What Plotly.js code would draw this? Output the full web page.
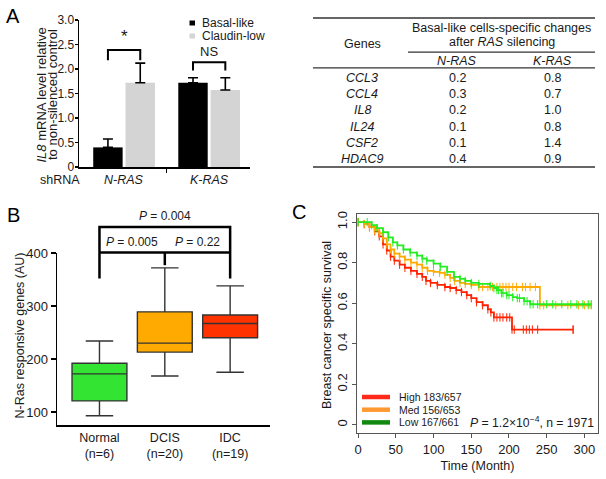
<!DOCTYPE html>
<html><head><meta charset="utf-8">
<script src="https://cdn.plot.ly/plotly-3.0.1.min.js"></script>
<style>html,body{margin:0;padding:0;background:#fff}#chart{width:606px;height:479px}</style>
</head><body><div id="chart"></div>
<script>
// ---------- Panel A: bar chart ----------
const shRNA = ['N-RAS', 'K-RAS'];
const seriesNames = ['Basal-like', 'Claudin-low'];
const basalMean = [0.40, 1.72];
const basalErr = [0.17, 0.10];
const claudinMean = [1.72, 1.57];
const claudinErr = [0.40, 0.25];
const sigLabels = ['*', 'NS'];
const sigLevels = [2.39, 2.14];

// ---------- Panel A: table ----------
const genes = ['CCL3', 'CCL4', 'IL8', 'IL24', 'CSF2', 'HDAC9'];
const nrasChange = ['0.2', '0.3', '0.2', '0.1', '0.1', '0.4'];
const krasChange = ['0.8', '0.7', '1.0', '0.8', '1.4', '0.9'];

// ---------- Panel B: box plot ----------
const stages = ['Normal', 'DCIS', 'IDC'];
const stageN = [6, 20, 19];
const boxLo = [93, 168, 175];
const boxQ1 = [121, 213, 240];
const boxMed = [172, 230, 267];
const boxQ3 = [192, 289, 283];
const boxHi = [234, 372, 338];
const pValues = ['0.004', '0.005', '0.22'];

// ---------- Panel C: Kaplan-Meier ----------
const kmGroups = ['High', 'Med', 'Low'];
const kmEvents = ['183/657', '156/653', '167/661'];
const highT = [0, 8, 15, 22, 28, 33, 38, 43, 48, 55, 62, 70, 78, 85, 90, 96, 105, 115, 122, 130, 137, 144, 150, 157, 165, 172, 176, 180, 204, 285];
const highS = [1.0, 0.99, 0.975, 0.955, 0.93, 0.89, 0.86, 0.83, 0.81, 0.79, 0.775, 0.76, 0.745, 0.73, 0.71, 0.70, 0.69, 0.68, 0.675, 0.665, 0.655, 0.64, 0.625, 0.605, 0.59, 0.57, 0.555, 0.53, 0.47, 0.47];
const medT = [0, 8, 15, 22, 28, 33, 38, 43, 48, 55, 62, 70, 78, 85, 92, 100, 108, 115, 122, 128, 135, 142, 150, 160, 241, 309];
const medS = [1.0, 0.99, 0.975, 0.96, 0.945, 0.92, 0.89, 0.865, 0.845, 0.83, 0.815, 0.80, 0.79, 0.775, 0.76, 0.755, 0.75, 0.74, 0.725, 0.71, 0.70, 0.695, 0.69, 0.68, 0.59, 0.59];
const lowT = [0, 12, 18, 25, 33, 40, 46, 52, 60, 69, 78, 85, 91, 100, 109, 118, 127, 135, 142, 150, 160, 175, 180, 184, 190, 197, 205, 211, 220, 228, 309];
const lowS = [1.0, 1.0, 0.985, 0.97, 0.95, 0.925, 0.90, 0.885, 0.865, 0.85, 0.835, 0.82, 0.81, 0.795, 0.78, 0.755, 0.73, 0.72, 0.71, 0.70, 0.695, 0.685, 0.675, 0.665, 0.65, 0.64, 0.63, 0.625, 0.61, 0.595, 0.595];
const highCensor = [184, 188, 192, 197, 201, 207, 219, 223, 227, 231, 238, 285];
const medCensor = [165, 172, 178, 184, 188, 192, 196, 200, 205, 210, 218, 222, 228, 235, 246, 262, 278, 292, 300, 306];
const lowCensor = [186, 192, 200, 214, 224, 232, 238, 250, 258, 270, 282, 290, 298, 305];

// ---------- helpers / styles ----------
const W = 606, H = 479;
const px = v => v / W;
const py = v => 1 - v / H;
const FONT = 'Liberation Sans, Arial, Helvetica, sans-serif';
const TXT = '#1a1a1a';

function stepAt(T, S, t) {
  let v = S[0];
  for (let i = 0; i < T.length; i++) if (T[i] <= t) v = S[i];
  return v;
}
function paperText(x, y, text, size, extra) {
  return Object.assign({xref: 'paper', yref: 'paper', x: px(x), y: py(y), text: text,
    xanchor: 'center', yanchor: 'middle', showarrow: false,
    font: {family: FONT, size: size, color: TXT}}, extra || {});
}

const traces = [];
const shapes = [];
const annotations = [];

// ===== Panel A bars =====
const xIdx = shRNA.map((_, i) => i);
const bargap = 0.24;
const barOff = (1 - bargap) / 4;
traces.push({
  type: 'bar', x: xIdx, y: basalMean, name: seriesNames[0],
  marker: {color: '#000000'},
  error_y: {type: 'data', array: basalErr, arrayminus: basalErr.map(() => 0), symmetric: false, color: '#000', thickness: 1.6, width: 5},
  xaxis: 'x', yaxis: 'y', hoverinfo: 'skip'
});
traces.push({
  type: 'bar', x: xIdx, y: claudinMean, name: seriesNames[1],
  marker: {color: '#d4d4d4'},
  error_y: {type: 'data', array: claudinErr, arrayminus: claudinErr.map(() => 0), symmetric: false, color: '#000', thickness: 1.6, width: 5},
  xaxis: 'x', yaxis: 'y', hoverinfo: 'skip'
});
// significance brackets
const legLen = [0.21, 0.17];
xIdx.forEach((i, k) => {
  const lv = sigLevels[k];
  traces.push({
    type: 'scatter', mode: 'lines', xaxis: 'x', yaxis: 'y',
    x: [i - barOff, i - barOff, i + barOff, i + barOff],
    y: [lv - legLen[k], lv, lv, lv - legLen[k]],
    line: {color: '#000', width: 2}, hoverinfo: 'skip'
  });
  annotations.push({
    xref: 'x', yref: 'y', x: i, y: lv + (k === 0 ? 0.03 : 0.02), xanchor: 'center', yanchor: 'bottom',
    text: sigLabels[k], showarrow: false,
    font: {family: FONT, size: k === 0 ? 17 : 13, color: TXT}
  });
  annotations.push({
    xref: 'x', yref: 'paper', x: i, y: py(180), xanchor: 'center', yanchor: 'middle',
    text: '<i>' + shRNA[k] + '</i>', showarrow: false, font: {family: FONT, size: 12.5, color: TXT}
  });
});
annotations.push(paperText(60, 180, 'shRNA', 12.5));
// y title A (two lines)
annotations.push(paperText(41.5, 95, '<i>IL8</i> mRNA level relative', 13, {textangle: -90}));
annotations.push(paperText(53, 95, 'to non-silenced control', 13, {textangle: -90}));
// legend A
const legColors = ['#000000', '#d4d4d4'];
seriesNames.forEach((n, k) => {
  const cy = 23 + k * 13;
  shapes.push({type: 'rect', xref: 'paper', yref: 'paper', x0: px(189.5), x1: px(195), y0: py(cy - 2.5), y1: py(cy + 2.5), fillcolor: legColors[k], line: {width: 0}});
  annotations.push(paperText(200, cy, n, 12, {xanchor: 'left'}));
});
// panel letters
[['A', 13, 16], ['B', 13, 215], ['C', 299, 212]].forEach(([t, x, y]) => {
  annotations.push(paperText(x, y, t, 20, {font: {family: FONT, size: 20, color: '#000'}}));
});

// ===== Table (hidden axes x4/y4) =====
const rowFont = {family: FONT, size: 12.5, color: TXT};
const colX = [0.174, 0.511, 0.851];
function cell(x, y, text) {
  return {xref: 'x4', yref: 'y4', x: x, y: y, text: text, xanchor: 'center', yanchor: 'middle', showarrow: false, font: rowFont};
}
genes.forEach((g, i) => {
  annotations.push(cell(colX[0], i, '<i>' + g + '</i>'));
  annotations.push(cell(colX[1], i, nrasChange[i]));
  annotations.push(cell(colX[2], i, krasChange[i]));
});
annotations.push(cell(colX[0], -2.1, 'Genes'));
annotations.push(cell(0.67, -3.09, 'Basal-like cells-specific changes'));
annotations.push(cell(0.67, -2.2, 'after <i>RAS</i> silencing'));
annotations.push(cell(colX[1], -1.02, '<i>' + shRNA[0] + '</i>'));
annotations.push(cell(colX[2], -1.02, '<i>' + shRNA[1] + '</i>'));
[[0, -3.70, 1.5], [0.337, -1.60, 1.2], [0, -0.62, 1.2], [0, 5.49, 1.5]].forEach(([x0, y, w]) => {
  shapes.push({type: 'line', xref: 'x4', yref: 'y4', x0: x0, x1: 1, y0: y, y1: y, line: {color: '#333', width: w}});
});

// ===== Panel B boxes =====
const boxFill = ['#33e433', '#ffaa00', '#ff3300'];
stages.forEach((s, i) => {
  traces.push({
    type: 'box', x: [s], q1: [boxQ1[i]], median: [boxMed[i]], q3: [boxQ3[i]],
    lowerfence: [boxLo[i]], upperfence: [boxHi[i]], boxpoints: false,
    width: 0.84, whiskerwidth: 0.5, fillcolor: boxFill[i],
    line: {color: '#333', width: 1.4}, xaxis: 'x2', yaxis: 'y2', hoverinfo: 'skip'
  });
});
annotations.push(paperText(19.5, 336, 'N-Ras responsive genes (AU)', 12.5, {textangle: -90}));
// brackets (overlay axes x5/y5, same value scale)
const iN = stages.indexOf('Normal'), iD = stages.indexOf('DCIS'), iI = stages.indexOf('IDC');
const topLv = 449, lowLv = 401, legEnd = 352, midEnd = 377;
const brStyle = {color: '#000', width: 2.5};
traces.push({type: 'scatter', mode: 'lines', xaxis: 'x5', yaxis: 'y5', x: [iN, iN, iI, iI], y: [legEnd, topLv, topLv, legEnd], line: brStyle, hoverinfo: 'skip'});
traces.push({type: 'scatter', mode: 'lines', xaxis: 'x5', yaxis: 'y5', x: [iN, iI], y: [lowLv, lowLv], line: brStyle, hoverinfo: 'skip'});
traces.push({type: 'scatter', mode: 'lines', xaxis: 'x5', yaxis: 'y5', x: [iD, iD], y: [lowLv, midEnd], line: brStyle, hoverinfo: 'skip'});
const pFont = {family: FONT, size: 12, color: TXT};
function pText(x, y, t) {
  return {xref: 'x5', yref: 'y5', x: x, y: y, xanchor: 'center', yanchor: 'bottom', text: '<i>P</i> = ' + t, showarrow: false, font: pFont};
}
annotations.push(pText((iN + iI) / 2, topLv + 3, pValues[0]));
annotations.push(pText((iN + iD) / 2, lowLv + 3, pValues[1]));
annotations.push(pText((iD + iI) / 2, lowLv + 3, pValues[2]));

// ===== Panel C KM =====
const kmLine = ['#ff2200', '#ffaa00', '#22ee22'];
const kmLeg = ['#ff2a1a', '#ff9a33', '#0f8a0f'];
const kmData = [[highT, highS, highCensor], [medT, medS, medCensor], [lowT, lowS, lowCensor]];
kmData.forEach(([T, S, C], k) => {
  traces.push({
    type: 'scatter', mode: 'lines+markers', x: T, y: S, xaxis: 'x3', yaxis: 'y3',
    line: {shape: 'hv', color: kmLine[k], width: 1.8},
    marker: {symbol: 'line-ns', size: 6, color: kmLine[k], line: {color: kmLine[k], width: 1}},
    hoverinfo: 'skip'
  });
  traces.push({
    type: 'scatter', mode: 'markers', x: C, y: C.map(t => stepAt(T, S, t)), xaxis: 'x3', yaxis: 'y3',
    marker: {symbol: 'line-ns', size: 6, color: kmLine[k], line: {color: kmLine[k], width: 1}},
    hoverinfo: 'skip'
  });
});
kmGroups.forEach((g, k) => {
  const cy = 397 + k * 12.7;
  shapes.push({type: 'line', xref: 'paper', yref: 'paper', x0: px(362), x1: px(390), y0: py(cy), y1: py(cy), line: {color: kmLeg[k], width: 4.5}});
  annotations.push(paperText(397, cy, g + ' ' + kmEvents[k], 10.5, {xanchor: 'left'}));
});
annotations.push({xref: 'x3', yref: 'y3', x: 315, y: 0.012, xanchor: 'right', yanchor: 'middle', text: '<i>P</i> = 1.2×10<sup>−4</sup>, n = 1971', showarrow: false, font: {family: FONT, size: 12.2, color: TXT}});
annotations.push(paperText(327, 325, 'Breast cancer specific survival', 12.5, {textangle: -90}));

// ===== Layout =====
const axBase = {showgrid: false, zeroline: false, fixedrange: true};
const layout = {
  width: W, height: H, margin: {l: 0, r: 0, t: 0, b: 0},
  paper_bgcolor: '#fff', plot_bgcolor: 'rgba(0,0,0,0)',
  showlegend: false, bargap: bargap, bargroupgap: 0.09, barmode: 'group',
  font: {family: FONT, color: TXT},
  xaxis: Object.assign({}, axBase, {
    domain: [px(79), px(250)], range: [-0.53, 1.48], anchor: 'y',
    showline: true, linecolor: '#000', linewidth: 1.5,
    tickmode: 'array', tickvals: [0.5], ticks: 'outside', ticklen: 4, tickwidth: 1.5, tickcolor: '#000', showticklabels: false
  }),
  yaxis: Object.assign({}, axBase, {
    domain: [py(167), py(20)], range: [0, 3], anchor: 'x',
    showline: true, linecolor: '#000', linewidth: 1.5,
    tickmode: 'array', tickvals: [0, 0.5, 1, 1.5, 2, 2.5, 3], ticktext: ['0', '0.5', '1.0', '1.5', '2.0', '2.5', '3.0'],
    ticks: 'outside', ticklen: 3, tickwidth: 1.5, tickcolor: '#000', ticklabelstandoff: -2,
    tickfont: {family: FONT, size: 12, color: TXT}
  }),
  xaxis2: Object.assign({}, axBase, {
    domain: [px(57), px(270)], range: [-0.65, 2.61], anchor: 'y2', type: 'category',
    categoryorder: 'array', categoryarray: stages,
    showline: true, linecolor: '#000', linewidth: 1.5, ticks: '',
    tickmode: 'array', tickvals: stages, ticktext: stages.map((s, i) => s + '<br>(n=' + stageN[i] + ')'),
    tickfont: {family: FONT, size: 12.5, color: TXT}
  }),
  yaxis2: Object.assign({}, axBase, {
    domain: [py(425), py(253)], range: [75.5, 400], anchor: 'x2',
    showline: true, linecolor: '#000', linewidth: 1.5,
    tickmode: 'array', tickvals: [100, 200, 300, 400],
    ticks: 'outside', ticklen: 5, tickwidth: 1.5, tickcolor: '#000',
    tickfont: {family: FONT, size: 13, color: TXT}
  }),
  xaxis5: Object.assign({}, axBase, {domain: [px(57), px(270)], range: [-0.65, 2.61], anchor: 'y5', visible: false}),
  yaxis5: Object.assign({}, axBase, {domain: [py(425), py(200)], range: [75.5, 500], anchor: 'x5', visible: false}),
  xaxis3: Object.assign({}, axBase, {
    domain: [px(357), px(598)], range: [-1.5, 318], anchor: 'y3',
    showline: true, mirror: true, linecolor: '#555', linewidth: 1,
    tickmode: 'array', tickvals: [0, 50, 100, 150, 200, 250, 300],
    ticks: 'outside', ticklen: 4, tickcolor: '#555',
    tickfont: {family: FONT, size: 13, color: TXT},
    title: {text: 'Time (Month)', font: {family: FONT, size: 12.5, color: TXT}, standoff: 5}
  }),
  yaxis3: Object.assign({}, axBase, {
    domain: [py(433), py(214)], range: [-0.04, 1.04], anchor: 'x3',
    showline: true, mirror: true, linecolor: '#555', linewidth: 1,
    tickmode: 'array', tickvals: [0, 0.2, 0.4, 0.6, 0.8, 1.0], ticktext: ['0', '0.2', '0.4', '0.6', '0.8', '1.0'],
    ticks: 'outside', ticklen: 4, tickcolor: '#555', tickangle: -90,
    tickfont: {family: FONT, size: 13, color: TXT}
  }),
  xaxis4: Object.assign({}, axBase, {domain: [px(305), px(600)], range: [-0.0284, 1.0177], anchor: 'y4', visible: false}),
  yaxis4: Object.assign({}, axBase, {domain: [py(175), py(10)], range: [5.988, -4.198], anchor: 'x4', visible: false}),
  shapes: shapes,
  annotations: annotations
};

Plotly.newPlot('chart', traces, layout, {staticPlot: true, displayModeBar: false});
</script>
</body></html>
